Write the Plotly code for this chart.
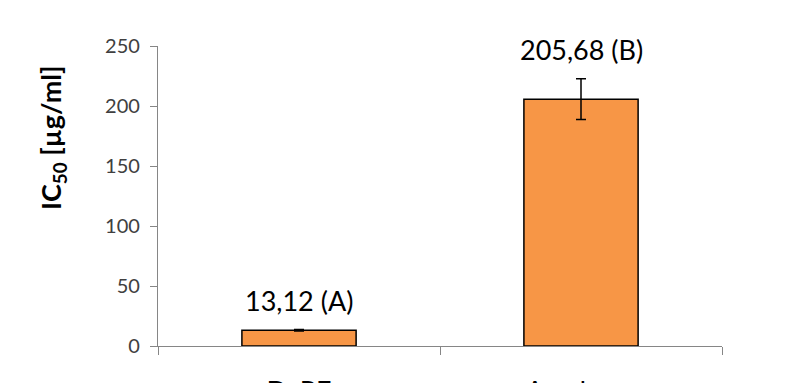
import plotly.graph_objects as go

# IC50 values with standard deviations and significance groups
categories = ["D. PE", "Acarbose"]
ic50_values = [13.12, 205.68]
ic50_errors = [0.6, 17.0]
group_letters = ["A", "B"]
y_tick_values = [0, 50, 100, 150, 200, 250]

bar_labels = [f"{v:.2f}".replace(".", ",") + f" ({g})" for v, g in zip(ic50_values, group_letters)]

W, H = 785, 383
margin = dict(l=158, r=63, t=46, b=37)
FONT = "Lato, 'Open Sans', sans-serif"

fig = go.Figure()
fig.add_trace(go.Bar(
    x=categories,
    y=ic50_values,
    width=0.405,
    marker=dict(color="#F79646", line=dict(color="#000000", width=1.5)),
    error_y=dict(type="data", array=ic50_errors, visible=True,
                 color="#000000", thickness=1.5, width=5),
    hoverinfo="x+y",
))

# value labels above each bar (above the error bar top)
for cat, v, e, lab in zip(categories, ic50_values, ic50_errors, bar_labels):
    fig.add_annotation(
        x=cat, y=v + e, xref="x", yref="y",
        text=lab, showarrow=False, yanchor="middle", yshift=29,
        font=dict(family=FONT, size=27, color="#000000"),
    )

# rotated y-axis title, placed by pixel position
plot_w = W - margin["l"] - margin["r"]
plot_h = H - margin["t"] - margin["b"]
title_px, title_py = 52, 138
fig.add_annotation(
    x=(title_px - margin["l"]) / plot_w,
    y=(H - title_py - margin["b"]) / plot_h,
    xref="paper", yref="paper", xanchor="center", yanchor="middle",
    text="<b>IC<sub>50</sub> [µg/ml]</b>", showarrow=False, textangle=-90,
    font=dict(family=FONT, size=27, color="#000000"),
)

fig.update_layout(
    width=W, height=H, margin=margin,
    plot_bgcolor="#FFFFFF", paper_bgcolor="#FFFFFF",
    showlegend=False,
    font=dict(family=FONT, color="#404040"),
    xaxis=dict(
        type="category", showline=True, linecolor="#868686", linewidth=1.3,
        ticks="outside", tickson="boundaries", ticklen=8, tickcolor="#868686",
        tickfont=dict(size=27, color="#000000"), ticklabelstandoff=21,
        showgrid=False, zeroline=False, automargin=False,
    ),
    yaxis=dict(
        range=[0, 250], tickvals=y_tick_values, showline=True,
        linecolor="#868686", linewidth=1.3, ticks="outside", ticklen=7,
        tickcolor="#868686", tickfont=dict(size=20, color="#404040"),
        ticklabelstandoff=6,
        showgrid=False, zeroline=False, automargin=False,
    ),
)

fig.write_html("out.html")
